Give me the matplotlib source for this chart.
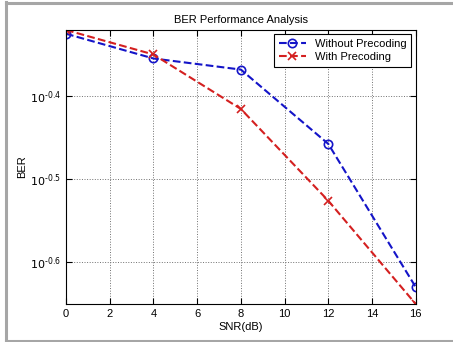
import numpy as np
import matplotlib
matplotlib.use("Agg")
from matplotlib import pyplot as plt
from matplotlib.ticker import FixedLocator, FuncFormatter, NullLocator
from matplotlib.lines import Line2D

plt.rcParams['font.family'] = ['Liberation Sans', 'DejaVu Sans']

# SNR values and BER readings
snr = [0, 4, 8, 12, 16]
ber_without = [0.4723, 0.4411, 0.4278, 0.3484, 0.2346]
ber_with = [0.4772, 0.4460, 0.3837, 0.2978, 0.2239]
labels = ["Without Precoding", "With Precoding"]
ytick_exp = [-0.6, -0.5, -0.4]

fig = plt.figure(figsize=(4.53, 3.42), dpi=100)
fig.patch.set_facecolor("white")
# grey frame: top, left, bottom (no right edge)
W, H = 453.0, 342.0
gray = "#a6a6a6"
fig.lines.append(Line2D([6/W, 1], [1 - 3/H, 1 - 3/H], transform=fig.transFigure, color=gray, lw=2.2))
fig.lines.append(Line2D([6/W, 6/W], [1/H, 1 - 2/H], transform=fig.transFigure, color=gray, lw=2.2))
fig.lines.append(Line2D([6/W, 1], [1.2/H, 1.2/H], transform=fig.transFigure, color=gray, lw=2.2))

ax = fig.add_axes([66/W, 1 - 304/H, (415.7-66)/W, (304-30)/H])

ax.plot(snr, ber_without, "--o", color="#1414c8", lw=1.5, ms=6, mfc="none",
        mew=1.2, label=labels[0])
ax.plot(snr, ber_with, "--x", color="#d42020", lw=1.5, ms=6, mew=1.2, label=labels[1])

ax.set_yscale("log")
ax.set_xlim(0, 16)
ax.set_ylim(min(ber_with + ber_without), max(ber_with + ber_without))
ax.set_xticks(np.arange(0, 17, 2))
ax.yaxis.set_major_locator(FixedLocator([10**e for e in ytick_exp]))
ax.yaxis.set_minor_locator(NullLocator())
ax.yaxis.set_major_formatter(FuncFormatter(
    lambda v, p: "$10^{\u2010%.1f}$" % abs(np.log10(v))))

ax.grid(True, which="major", linestyle=":", color="#707070", linewidth=0.7)
ax.tick_params(direction="in", top=True, right=True, labelsize=8, length=4, width=0.8)
for s in ax.spines.values():
    s.set_linewidth(0.8)

ax.set_title("BER Performance Analysis", fontsize=8, pad=5)
ax.set_xlabel("SNR(dB)", fontsize=8, labelpad=2)
ax.set_ylabel("BER", fontsize=8)
ax.yaxis.set_label_coords((27 - 66) / 349.7, 0.5)

leg = ax.legend(loc="upper right", fontsize=8, fancybox=False, framealpha=1,
                edgecolor="black", borderaxespad=0.4, handlelength=2.5,
                borderpad=0.4, labelspacing=0.3)
leg.get_frame().set_linewidth(0.8)

fig.savefig("out.png", dpi=100)
